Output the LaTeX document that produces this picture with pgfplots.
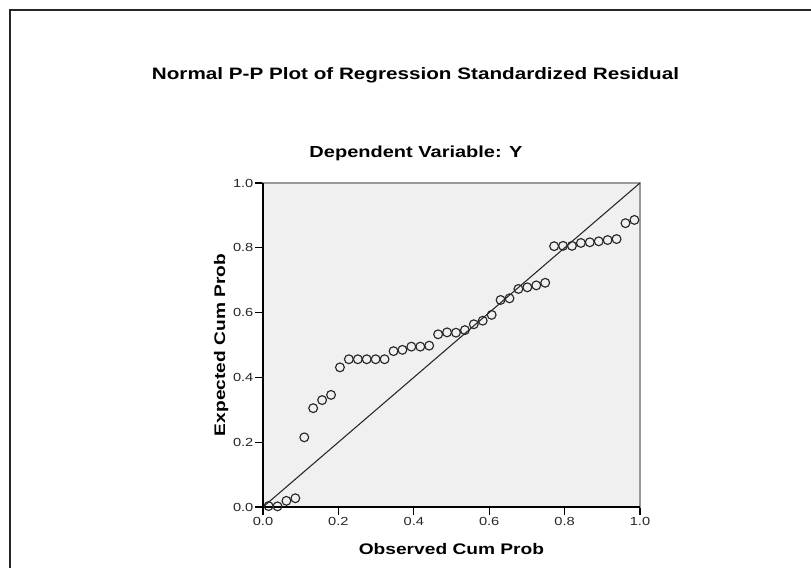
\documentclass[border=0pt]{standalone}
\usepackage{fontspec}
\setmainfont{Liberation Sans}
\usepackage{pgfplots}
\pgfplotsset{compat=1.18}
\newcommand{\sx}[1]{\scalebox{1.25}[1]{#1}}
\definecolor{plotbg}{HTML}{F0F0F0}
\begin{document}
\begin{tikzpicture}
\useasboundingbox (0,0) rectangle (608.25pt,426pt);
\draw[line width=1.5pt, black!85] (7.5pt,-5pt) -- (7.5pt,418.5pt) -- (620pt,418.5pt);
\begin{axis}[
  at={(197.25pt,45.75pt)}, anchor=south west,
  scale only axis, width=282.75pt, height=243pt,
  xmin=0, xmax=1, ymin=0, ymax=1,
  axis background/.style={fill=plotbg},
  axis line style={draw=gray!80, line width=1.1pt},
  tick align=outside, xtick pos=left, ytick pos=left,
  major tick length=6pt,
  tick style={black, line width=0.8pt},
  xtick={0,0.2,0.4,0.6,0.8,1.0},
  ytick={0,0.2,0.4,0.6,0.8,1.0},
  xticklabels={\sx{0.0},\sx{0.2},\sx{0.4},\sx{0.6},\sx{0.8},\sx{1.0}},
  yticklabels={\sx{0.0},\sx{0.2},\sx{0.4},\sx{0.6},\sx{0.8},\sx{1.0}},
  ticklabel style={font=\fontsize{8.8}{10}\selectfont, text=black!85},
  xticklabel style={inner sep=1.5pt},
  yticklabel style={inner sep=1pt},
  clip=false,
]
\addplot[black!85, line width=0.8pt] coordinates {(0,0) (1,1)};
\addplot[only marks, mark=o, mark size=3.3pt, mark options={draw=black!85, line width=0.85pt}] coordinates {
(0.0148,0.003) (0.0385,0.002) (0.0621,0.019) (0.0858,0.027)
(0.1095,0.215) (0.1331,0.305) (0.1568,0.330) (0.1805,0.346)
(0.2041,0.431) (0.2278,0.456) (0.2515,0.456) (0.2751,0.456)
(0.2988,0.456) (0.3225,0.456) (0.3462,0.481) (0.3698,0.485)
(0.3935,0.495) (0.4172,0.495) (0.4408,0.498) (0.4645,0.533)
(0.4882,0.539) (0.5118,0.538) (0.5355,0.546) (0.5592,0.564)
(0.5828,0.575) (0.6065,0.593) (0.6302,0.639) (0.6538,0.644)
(0.6775,0.673) (0.7012,0.678) (0.7249,0.684) (0.7485,0.692)
(0.7722,0.805) (0.7959,0.806) (0.8195,0.806) (0.8432,0.815)
(0.8669,0.817) (0.8905,0.820) (0.9142,0.824) (0.9379,0.827)
(0.9615,0.876) (0.9852,0.886)
};
\draw[black, line width=1.1pt] (axis cs:0,1) -- (axis cs:0,0) -- (axis cs:1,0);
\end{axis}
\node[anchor=base, inner sep=0pt, font=\fontsize{12.4}{14}\selectfont\bfseries] at (311.6pt,366pt) {\sx{Normal P-P Plot of Regression Standardized Residual}};
\node[anchor=base, inner sep=0pt, font=\fontsize{12}{14}\selectfont\bfseries] at (312pt,307.5pt) {\sx{Dependent Variable: Y}};
\node[anchor=base, inner sep=0pt, font=\fontsize{11.5}{14}\selectfont\bfseries] at (338.6pt,9.75pt) {\sx{Observed Cum Prob}};
\node[anchor=base, rotate=90, inner sep=0pt, font=\fontsize{11.5}{14}\selectfont\bfseries] at (168.75pt,167.25pt) {\sx{Expected Cum Prob}};
\end{tikzpicture}
\end{document}
